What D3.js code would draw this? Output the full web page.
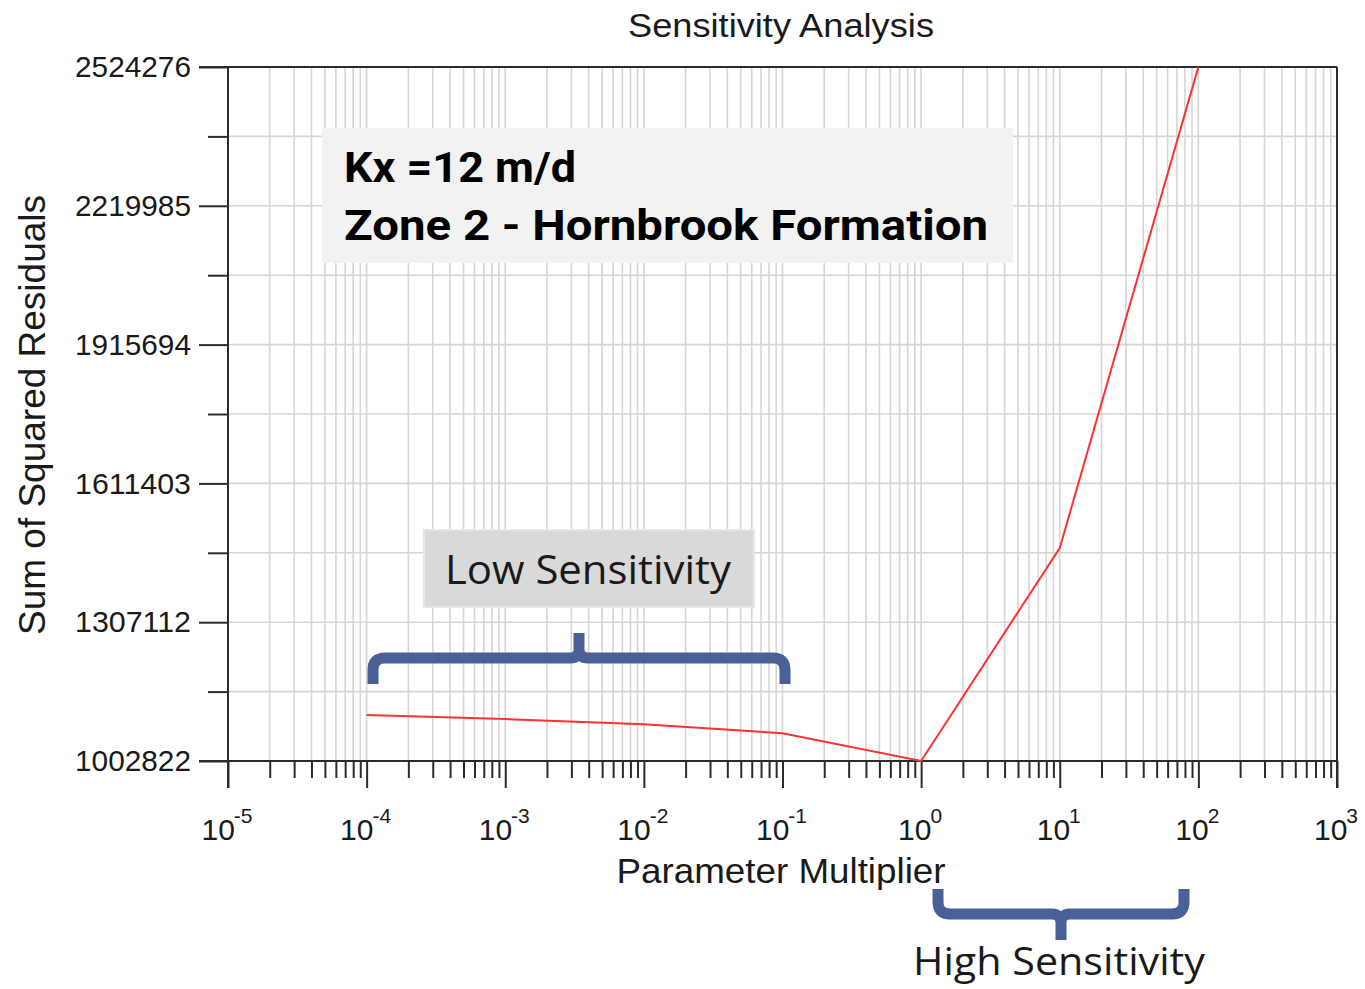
<!DOCTYPE html>
<html>
<head>
<meta charset="utf-8">
<script src="https://cdn.jsdelivr.net/npm/d3@7"></script>
<style>
  html, body { margin: 0; padding: 0; background: #ffffff; }
  svg { display: block; }
</style>
</head>
<body>
<svg id="chart" width="1365" height="989"></svg>
<script>
// Parameter multipliers tested and the resulting sum of squared residuals
const multipliers = [1e-4, 1e-3, 1e-2, 1e-1, 1, 10, 100];
const ssr = [1103700, 1094800, 1083400, 1063600, 1002822, 1469800, 2524276];

// Axis ticks
const yTicks = [1002822, 1307112, 1611403, 1915694, 2219985, 2524276];
const xDecadeExponents = [-5, -4, -3, -2, -1, 0, 1, 2, 3];

const titleText = "Sensitivity Analysis";
const xTitle = "Parameter Multiplier";
const yTitle = "Sum of Squared Residuals";
const noteLines = ["Kx =12 m/d", "Zone 2 - Hornbrook Formation"];
const lowLabel = "Low Sensitivity";
const highLabel = "High Sensitivity";

const svg = d3.select("#chart");
const plotLeft = 228, plotRight = 1337, plotTop = 67, plotBottom = 761;

const x = d3.scaleLog().domain([1e-5, 1e3]).range([plotLeft, plotRight]);
const y = d3.scaleLinear().domain([yTicks[0], yTicks[yTicks.length - 1]]).range([plotBottom, plotTop]);

// Tick positions
const xMajor = xDecadeExponents.map(e => Math.pow(10, e));
const xMinor = [];
xDecadeExponents.slice(0, -1).forEach(e => {
  for (let m = 2; m <= 9; m++) xMinor.push(m * Math.pow(10, e));
});
const yMinor = d3.pairs(yTicks).map(([a, b]) => (a + b) / 2);

const axisFont = "'Liberation Sans', Arial, sans-serif";
const gridColor = "#d5d5d5";
const axisColor = "#2b2b2b";

// Grid
const grid = svg.append("g");
grid.selectAll("line.vx").data(xMajor.concat(xMinor)).join("line")
  .attr("x1", d => x(d)).attr("x2", d => x(d))
  .attr("y1", plotTop).attr("y2", plotBottom)
  .attr("stroke", gridColor).attr("stroke-width", 1.6);
grid.selectAll("line.hy").data(yTicks.concat(yMinor)).join("line")
  .attr("x1", plotLeft).attr("x2", plotRight)
  .attr("y1", d => y(d)).attr("y2", d => y(d))
  .attr("stroke", gridColor).attr("stroke-width", 1.6);

// Y axis: major ticks with labels, minor ticks without
const yAxisMajor = d3.axisLeft(y).tickValues(yTicks).tickSize(29).tickSizeOuter(0)
  .tickPadding(8).tickFormat(d => String(d));
const gy = svg.append("g").attr("transform", `translate(${plotLeft},0)`).call(yAxisMajor);
gy.select(".domain").remove();
gy.selectAll(".tick line").attr("stroke", axisColor).attr("stroke-width", 2);
gy.selectAll(".tick text").attr("font-family", axisFont).attr("font-size", 30)
  .attr("fill", "#1a1a1a").attr("textLength", 116).attr("lengthAdjust", "spacingAndGlyphs");

const yAxisMinor = d3.axisLeft(y).tickValues(yMinor).tickSize(20).tickSizeOuter(0).tickFormat("");
const gym = svg.append("g").attr("transform", `translate(${plotLeft},0)`).call(yAxisMinor);
gym.select(".domain").remove();
gym.selectAll(".tick line").attr("stroke", axisColor).attr("stroke-width", 2);

// X axis: decade ticks with power labels, minor ticks between
const xAxisMajor = d3.axisBottom(x).tickValues(xMajor).tickSize(27).tickSizeOuter(0).tickFormat("");
const gx = svg.append("g").attr("transform", `translate(0,${plotBottom})`).call(xAxisMajor);
gx.select(".domain").remove();
gx.selectAll(".tick line").attr("stroke", axisColor).attr("stroke-width", 2);

const xAxisMinor = d3.axisBottom(x).tickValues(xMinor).tickSize(17).tickSizeOuter(0).tickFormat("");
const gxm = svg.append("g").attr("transform", `translate(0,${plotBottom})`).call(xAxisMinor);
gxm.select(".domain").remove();
gxm.selectAll(".tick line").attr("stroke", axisColor).attr("stroke-width", 2);

const xLabels = svg.append("g").selectAll("text").data(xDecadeExponents).join("text")
  .attr("x", e => x(Math.pow(10, e)) - 1)
  .attr("y", 840)
  .attr("text-anchor", "middle")
  .attr("font-family", axisFont)
  .attr("font-size", 30)
  .attr("fill", "#1a1a1a");
xLabels.append("tspan").text("10");
xLabels.append("tspan").attr("dy", -17).attr("font-size", 21).attr("dx", -1).text(e => String(e));

// Frame
const frame = svg.append("g").attr("stroke", axisColor).attr("stroke-width", 2).attr("fill", "none");
frame.append("line").attr("x1", plotLeft).attr("x2", plotLeft).attr("y1", plotTop).attr("y2", plotBottom + 27);
frame.append("line").attr("x1", plotRight).attr("x2", plotRight).attr("y1", plotTop).attr("y2", plotBottom + 27);
frame.append("line").attr("x1", plotLeft - 29).attr("x2", plotRight).attr("y1", plotTop).attr("y2", plotTop);
frame.append("line").attr("x1", plotLeft - 29).attr("x2", plotRight).attr("y1", plotBottom).attr("y2", plotBottom);

// Titles
svg.append("text").attr("x", 781).attr("y", 37).attr("text-anchor", "middle")
  .attr("font-family", axisFont).attr("font-size", 34).attr("fill", "#1a1a1a")
  .attr("textLength", 306).attr("lengthAdjust", "spacingAndGlyphs")
  .text(titleText);
svg.append("text").attr("x", 781).attr("y", 883).attr("text-anchor", "middle")
  .attr("font-family", axisFont).attr("font-size", 35).attr("fill", "#1a1a1a")
  .attr("textLength", 329).attr("lengthAdjust", "spacingAndGlyphs")
  .text(xTitle);
svg.append("text").attr("transform", "translate(45,415) rotate(-90)").attr("text-anchor", "middle")
  .attr("font-family", axisFont).attr("font-size", 37).attr("fill", "#1a1a1a")
  .attr("textLength", 440).attr("lengthAdjust", "spacingAndGlyphs")
  .text(yTitle);

// Sensitivity curve
const line = d3.line().x(d => x(d[0])).y(d => y(d[1]));
svg.append("path")
  .datum(d3.zip(multipliers, ssr))
  .attr("d", line)
  .attr("fill", "none")
  .attr("stroke", "#ff3030")
  .attr("stroke-width", 2);

// Zone note box
const noteFont = "Roboto, 'Noto Sans', sans-serif";
svg.append("rect").attr("x", 322).attr("y", 128).attr("width", 691).attr("height", 135)
  .attr("fill", "#f2f2f2");
svg.append("text").attr("x", 344).attr("y", 182)
  .attr("font-family", noteFont).attr("font-weight", 700).attr("font-size", 42)
  .attr("fill", "#000").attr("textLength", 232).attr("lengthAdjust", "spacingAndGlyphs")
  .text(noteLines[0]);
svg.append("text").attr("x", 344).attr("y", 240)
  .attr("font-family", noteFont).attr("font-weight", 700).attr("font-size", 42)
  .attr("fill", "#000").attr("textLength", 644).attr("lengthAdjust", "spacingAndGlyphs")
  .text(noteLines[1]);

// Low sensitivity label and brace
const calloutFont = "'Open Sans', 'Noto Sans', sans-serif";
svg.append("rect").attr("x", 424).attr("y", 530).attr("width", 330).attr("height", 77)
  .attr("fill", "#d9d9d9").attr("stroke", "#e6e6e6").attr("stroke-width", 2);
svg.append("text").attr("x", 588).attr("y", 584).attr("text-anchor", "middle")
  .attr("font-family", calloutFont).attr("font-size", 41).attr("fill", "#1a1a1a")
  .attr("textLength", 286).attr("lengthAdjust", "spacingAndGlyphs")
  .text(lowLabel);

const braceColor = "#4a6198";
svg.append("path")
  .attr("d", "M373,684 V670 Q373,658 385,658 H570 Q579,658 579,649 V633 M579,649 Q579,658 588,658 H773 Q785,658 785,670 V684")
  .attr("fill", "none").attr("stroke", braceColor).attr("stroke-width", 11);

// High sensitivity brace and label
svg.append("path")
  .attr("d", "M938,889 V902 Q938,914 950,914 H1052 Q1061,914 1061,923 V940 M1061,923 Q1061,914 1070,914 H1172 Q1184,914 1184,902 V889")
  .attr("fill", "none").attr("stroke", braceColor).attr("stroke-width", 11);
svg.append("text").attr("x", 1059).attr("y", 975).attr("text-anchor", "middle")
  .attr("font-family", calloutFont).attr("font-size", 39).attr("fill", "#1a1a1a")
  .attr("textLength", 292).attr("lengthAdjust", "spacingAndGlyphs")
  .text(highLabel);
</script>
</body>
</html>
